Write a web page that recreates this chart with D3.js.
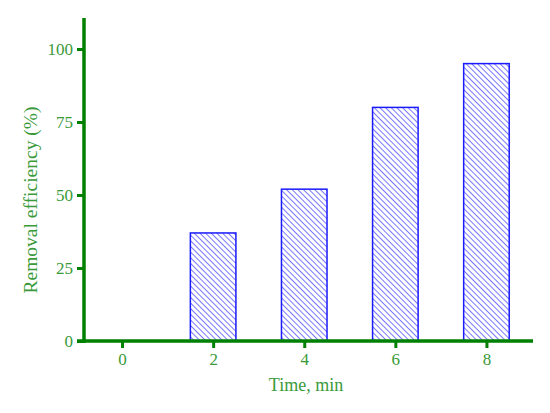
<!DOCTYPE html>
<html>
<head>
<meta charset="utf-8">
<script src="https://cdn.jsdelivr.net/npm/d3@7"></script>
<style>
  html, body { margin: 0; padding: 0; background: #fff; }
  svg { display: block; }
</style>
</head>
<body>
<script>
// Data
const times = [0, 2, 4, 6, 8];
const removal = [0, 37, 52, 80, 95];
const yTicks = [0, 25, 50, 75, 100];
const xTicks = [0, 2, 4, 6, 8];

const W = 550, H = 413;
const axisColor = "#008000";
const labelColor = "#3a9a3a";
const barColor = "#1a1aff";
const serif = "'Liberation Serif', 'Times New Roman', serif";

const svg = d3.select("body").append("svg").attr("width", W).attr("height", H);

const x = d3.scaleLinear().domain([-0.835, 9.0]).range([84, 532]);
const y = d3.scaleLinear().domain([0, 100]).range([341, 49]);

const defs = svg.append("defs");
const pat = defs.append("pattern")
  .attr("id", "hatch")
  .attr("patternUnits", "userSpaceOnUse")
  .attr("width", 4).attr("height", 4)
  .attr("patternTransform", "rotate(-45)");
pat.append("line").attr("x1", 0).attr("y1", 0).attr("x2", 0).attr("y2", 4)
  .attr("stroke", barColor).attr("stroke-width", 1.2);

// Bars (width of 1 time unit)
const data = times.map((t, i) => ({ t, v: removal[i] })).filter(d => d.v > 0);
svg.append("g").selectAll("rect").data(data).enter().append("rect")
  .attr("x", d => x(d.t - 0.5))
  .attr("width", d => x(d.t + 0.5) - x(d.t - 0.5))
  .attr("y", d => y(d.v))
  .attr("height", d => y(0) - y(d.v))
  .attr("fill", "url(#hatch)")
  .attr("stroke", barColor)
  .attr("stroke-width", 1.5);

// Y axis
const yAxis = svg.append("g").attr("transform", "translate(84,0)")
  .call(d3.axisLeft(y).tickValues(yTicks).tickSize(7).tickPadding(4).tickSizeOuter(0));
yAxis.select(".domain").remove();
yAxis.append("line").attr("x1", 0).attr("x2", 0).attr("y1", 18).attr("y2", 343)
  .attr("stroke", axisColor).attr("stroke-width", 3.5);
yAxis.selectAll(".tick line").attr("stroke", axisColor).attr("stroke-width", 3);
yAxis.selectAll(".tick text").attr("fill", labelColor)
  .style("font-family", serif).style("font-size", "17px");

// X axis
const xAxis = svg.append("g").attr("transform", "translate(0,341)")
  .call(d3.axisBottom(x).tickValues(xTicks).tickSize(7).tickPadding(5).tickSizeOuter(0));
xAxis.select(".domain").remove();
xAxis.append("line").attr("x1", 77).attr("x2", 533).attr("y1", 0).attr("y2", 0)
  .attr("stroke", axisColor).attr("stroke-width", 3.5);
xAxis.selectAll(".tick line").attr("stroke", axisColor).attr("stroke-width", 3);
xAxis.selectAll(".tick text").attr("fill", labelColor)
  .style("font-family", serif).style("font-size", "17px");

// Titles
svg.append("text")
  .attr("transform", "translate(37,200) rotate(-90)")
  .attr("text-anchor", "middle")
  .attr("fill", labelColor)
  .style("font-family", serif)
  .style("font-size", "19.5px")
  .text("Removal efficiency (%)");

svg.append("text")
  .attr("x", 306).attr("y", 391)
  .attr("text-anchor", "middle")
  .attr("fill", labelColor)
  .style("font-family", serif)
  .style("font-size", "18px")
  .text("Time, min");
</script>
</body>
</html>
